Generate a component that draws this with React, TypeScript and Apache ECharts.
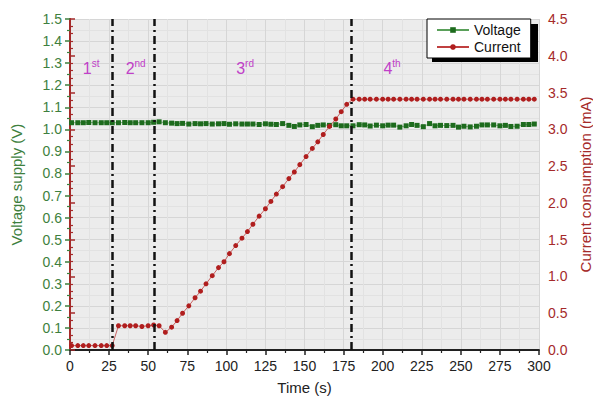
import React, { useEffect, useRef } from 'react';
import * as echarts from 'echarts';

// Time (s)
const timeS = [
  1, 5, 8.5, 12, 16, 20, 23.5, 27, 31, 35, 38.5, 42, 46, 50, 53.5, 57,
  61, 65, 68.5, 72, 76, 80, 83.5, 87, 91, 95, 98.5, 102, 106, 110, 113.5, 117,
  121, 125, 128.5, 132, 136, 140, 143.5, 147, 151, 155, 158.5, 162, 166, 170, 173.5, 177,
  181, 185, 188.5, 192, 196, 200, 203.5, 207, 211, 215, 218.5, 222, 226, 230, 233.5, 237,
  241, 245, 248.5, 252, 256, 260, 263.5, 267, 271, 275, 278.5, 282, 286, 290, 293.5, 297,
];

// Voltage supply (V)
const voltageV = [
  1.030, 1.030, 1.030, 1.031, 1.030, 1.030, 1.030, 1.030, 1.030, 1.031, 1.030, 1.030, 1.030, 1.030, 1.032, 1.034,
  1.030, 1.028, 1.026, 1.027, 1.024, 1.026, 1.025, 1.026, 1.024, 1.025, 1.026, 1.023, 1.025, 1.024, 1.024,
  1.024, 1.022, 1.025, 1.023, 1.022, 1.026, 1.018, 1.013, 1.020, 1.022, 1.012, 1.018, 1.020, 1.018, 1.021, 1.016, 1.016,
  1.016, 1.021, 1.020, 1.015, 1.019, 1.016, 1.019, 1.019, 1.010, 1.016,
  1.022, 1.018, 1.012, 1.026, 1.016, 1.018, 1.017, 1.018, 1.010, 1.014,
  1.011, 1.014, 1.020, 1.020, 1.020, 1.016, 1.018, 1.013, 1.014, 1.022,
  1.022, 1.024,
];

// Current consumption (mA)
const currentMA = [
  0.06, 0.06, 0.06, 0.06, 0.06, 0.06, 0.06, 0.06,
  0.33, 0.33, 0.33, 0.33, 0.32, 0.33, 0.34, 0.33,
  0.24, 0.31, 0.40, 0.50, 0.60,
  0.71, 0.80, 0.90, 1.01, 1.12, 1.20, 1.31, 1.42, 1.52, 1.61, 1.71,
  1.82, 1.92, 2.02, 2.12, 2.22, 2.33, 2.42, 2.52, 2.63, 2.74, 2.83, 2.93, 3.04, 3.14, 3.24, 3.34,
  3.41, 3.41, 3.41, 3.41, 3.41, 3.41, 3.41, 3.41, 3.41, 3.41, 3.41, 3.41, 3.41, 3.41, 3.41, 3.41,
  3.41, 3.41, 3.41, 3.41, 3.41, 3.41, 3.41, 3.41, 3.41, 3.41, 3.41, 3.41, 3.41, 3.41, 3.41, 3.41,
];

// Phase boundaries (s)
const phaseBoundaries = [27, 54, 180];
const phaseNums = ['1', '2', '3', '4'];
const phaseSups = ['st', 'nd', 'rd', 'th'];
const phaseLabelT = [13.5, 42, 112, 206];
const phaseLabelV = 1.28;

const FONT = 'Liberation Sans, Arial, Helvetica, sans-serif';
const GREEN = '#3e7f3e';
const RED = '#a52a2a';
const MAGENTA = '#c040c8';

export default function App() {
  const ref = useRef<HTMLDivElement>(null);

  useEffect(() => {
    if (!ref.current) return;
    const chart = echarts.init(ref.current, null, { renderer: 'svg' });

    const voltageData = timeS.map((t, i) => [t, voltageV[i]]);
    const currentData = timeS.map((t, i) => [t, currentMA[i]]);

    chart.setOption({
      animation: false,
      backgroundColor: '#ffffff',
      textStyle: { fontFamily: FONT },
      grid: {
        left: 70,
        right: 54,
        top: 19,
        bottom: 47,
        show: true,
        backgroundColor: '#ececec',
        borderWidth: 0,
        containLabel: false,
        outerBoundsMode: 'none',
      },
      legend: {
        data: ['Voltage', 'Current'],
        orient: 'vertical',
        left: 427,
        top: 19,
        z: 20,
        backgroundColor: '#ffffff',
        borderColor: '#000000',
        borderWidth: 1,
        borderRadius: 0,
        padding: [3, 10, 3, 9],
        itemGap: 1,
        itemWidth: 32,
        itemHeight: 7,
        textStyle: { fontSize: 14, color: '#111111', fontFamily: FONT, lineHeight: 16 },
      },
      xAxis: [
        {
          type: 'value',
          min: 0,
          max: 300,
          interval: 25,
          name: 'Time (s)',
          nameLocation: 'middle',
          nameGap: 30,
          nameTextStyle: { fontSize: 15, color: '#222222', fontFamily: FONT },
          axisLine: { show: true, lineStyle: { color: '#222222', width: 1.5 } },
          axisTick: { show: true, length: 5, lineStyle: { color: '#222222', width: 1.5 } },
          minorTick: { show: true, splitNumber: 2, length: 3, lineStyle: { color: '#222222', width: 1.2 } },
          axisLabel: { fontSize: 14, color: '#222222', margin: 9, fontFamily: FONT },
          splitLine: { show: true, lineStyle: { color: '#d6d6d6', width: 1 } },
          minorSplitLine: { show: true, lineStyle: { color: '#e2e2e2', width: 1 } },
        },
        {
          type: 'value',
          position: 'top',
          min: 0,
          max: 300,
          interval: 25,
          axisLine: { show: true, lineStyle: { color: '#111111', width: 1.5 } },
          axisTick: { show: false },
          axisLabel: { show: false },
          splitLine: { show: false },
        },
      ],
      yAxis: [
        {
          type: 'value',
          min: 0,
          max: 1.5,
          interval: 0.1,
          position: 'left',
          name: 'Voltage supply (V)',
          nameLocation: 'middle',
          nameGap: 46,
          nameTextStyle: { fontSize: 15, color: GREEN, fontFamily: FONT },
          axisLine: { show: true, lineStyle: { color: GREEN, width: 2 } },
          axisTick: { show: true, length: 5, lineStyle: { color: GREEN, width: 1.5 } },
          minorTick: { show: true, splitNumber: 2, length: 3, lineStyle: { color: GREEN, width: 1.2 } },
          axisLabel: {
            fontSize: 14,
            color: GREEN,
            margin: 8,
            fontFamily: FONT,
            formatter: (v: number) => v.toFixed(1),
          },
          splitLine: { show: true, lineStyle: { color: '#d6d6d6', width: 1 } },
          minorSplitLine: { show: true, lineStyle: { color: '#e2e2e2', width: 1 } },
        },
        {
          type: 'value',
          min: 0,
          max: 4.5,
          interval: 0.5,
          position: 'right',
          name: 'Current consumption (mA)',
          nameLocation: 'middle',
          nameGap: 36,
          nameRotate: 90,
          nameTextStyle: { fontSize: 15, color: RED, fontFamily: FONT },
          axisLine: { show: true, lineStyle: { color: RED, width: 2 } },
          axisTick: { show: true, length: 5, lineStyle: { color: RED, width: 1.5 } },
          minorTick: { show: true, splitNumber: 5, length: 3, lineStyle: { color: RED, width: 1.2 } },
          axisLabel: {
            fontSize: 14,
            color: RED,
            margin: 9,
            fontFamily: FONT,
            formatter: (v: number) => v.toFixed(1),
          },
          splitLine: { show: false },
        },
      ],
      series: [
        {
          name: 'Voltage',
          type: 'line',
          xAxisIndex: 0,
          yAxisIndex: 0,
          data: voltageData,
          symbol: 'rect',
          symbolSize: 5,
          itemStyle: { color: '#1d6b1d' },
          lineStyle: { color: '#5aa05a', width: 0.8 },
          z: 3,
          markLine: {
            silent: true,
            symbol: ['none', 'none'],
            label: { show: false },
            lineStyle: { color: '#111111', width: 2.5, type: [8, 4, 2, 4] },
            data: phaseBoundaries.map((t) => ({ xAxis: t })),
          },
        },
        {
          name: 'Current',
          type: 'line',
          xAxisIndex: 0,
          yAxisIndex: 1,
          data: currentData,
          symbol: 'circle',
          symbolSize: 5,
          itemStyle: { color: '#b01e1e' },
          lineStyle: { color: '#c04040', width: 0.8 },
          z: 4,
        },
      ],
    });

    const labels = phaseNums.map((n, i) => {
      const p = chart.convertToPixel({ xAxisIndex: 0, yAxisIndex: 0 }, [phaseLabelT[i], phaseLabelV]);
      return {
        type: 'text',
        x: p[0],
        y: p[1],
        z: 10,
        style: {
          text: `{n|${n}}{s|${phaseSups[i]}}`,
          align: 'center',
          verticalAlign: 'middle',
          rich: {
            n: { fontSize: 16, fill: MAGENTA, fontFamily: FONT, verticalAlign: 'bottom', lineHeight: 18 },
            s: { fontSize: 10, fill: MAGENTA, fontFamily: FONT, verticalAlign: 'top', lineHeight: 18 },
          },
        },
      };
    });

    chart.setOption({
      graphic: [
        {
          type: 'rect',
          shape: { x: 432, y: 24, width: 106, height: 38 },
          style: { fill: '#000000' },
          z: 15,
        },
        ...labels,
      ],
    });

    return () => chart.dispose();
  }, []);

  return (
    <div
      ref={ref}
      style={{ position: 'fixed', left: 0, top: 0, width: 593, height: 397 }}
    />
  );
}
